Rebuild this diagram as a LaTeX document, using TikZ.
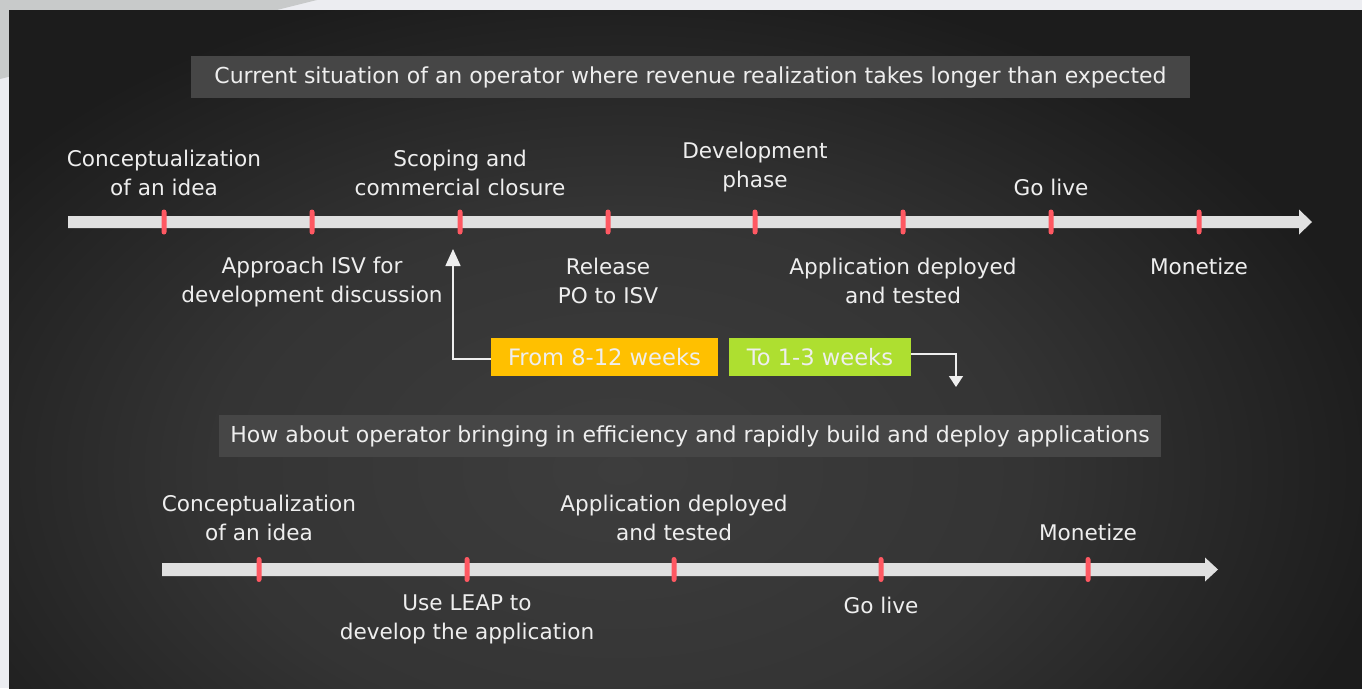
\documentclass[tikz,border=0pt]{standalone}
\usepackage{fontspec}
\setmainfont{DejaVu Sans}
\usetikzlibrary{arrows.meta}
\definecolor{lightbg}{HTML}{ECEDF1}
\definecolor{wedge}{HTML}{C8CACA}
\definecolor{bgin}{HTML}{3D3D3D}
\definecolor{bgmid}{HTML}{343434}
\definecolor{bgout}{HTML}{1C1C1C}
\definecolor{barc}{HTML}{E0E0E0}
\definecolor{tickred}{HTML}{FF5862}
\definecolor{boxgrey}{HTML}{464646}
\definecolor{txt}{HTML}{EEEEEE}
\definecolor{orangebox}{HTML}{FFC000}
\definecolor{greenbox}{HTML}{AEDF30}
\pgfdeclareradialshading{bgshade}{\pgfpoint{0bp}{0bp}}{color(0bp)=(bgin); color(13bp)=(bgmid); color(25bp)=(bgout); color(50bp)=(bgout)}
\tikzset{
  lbl/.style={text=txt, align=center, inner sep=0pt, font=\fontsize{21.6}{29}\selectfont},
  titlebox/.style={fill=boxgrey, text=txt, minimum height=42pt, inner sep=0pt, font=\fontsize{22}{29}\selectfont},
  tickmark/.style={fill=tickred, minimum width=5pt, minimum height=25pt, inner sep=0pt, rounded corners=2.5pt},
  weekbox/.style={text=txt, minimum height=38pt, inner sep=0pt, font=\fontsize{22.6}{29}\selectfont},
  conn/.style={draw=txt, line width=1.5pt}
}
\begin{document}
\begin{tikzpicture}[x=1pt,y=-1pt]
\useasboundingbox (0,0) rectangle (1362,688);
% background
\fill[lightbg] (0,0) rectangle (1362,688);
\fill[wedge] (0,0) -- (317,0) -- (0,79) -- cycle;
\begin{scope}
  \clip (9,10) rectangle (1362,688);
  \shade[shading=bgshade] (-160,-30) rectangle (1400,970);
\end{scope}
% titles
\node[titlebox, minimum width=999pt] (t1) at (690.5,77) {Current situation of an operator where revenue realization takes longer than expected};
\node[titlebox, minimum width=942pt] (t2) at (690,436) {How about operator bringing in efficiency and rapidly build and deploy applications};
% timeline 1
\fill[barc] (68,216) -- (1299,216) -- (1299,209.5) -- (1312,222) -- (1299,234.5) -- (1299,228) -- (68,228) -- cycle;
\foreach \x [count=\i] in {164,312,460,608,755,903,1051,1199}
  \node[tickmark] (a\i) at (\x,222) {};
\node[lbl] (la1) at (164,172.5) {Conceptualization\\of an idea};
\node[lbl] (la3) at (460,172.5) {Scoping and\\commercial closure};
\node[lbl] (la5) at (755,167.5) {Development\\phase};
\node[lbl] (la7) at (1051,187) {Go live};
\node[lbl] (lb2) at (312,282.5) {Approach ISV for\\development discussion};
\node[lbl] (lb4) at (608,280.5) {Release\\PO to ISV};
\node[lbl] (lb6) at (903,280.5) {Application deployed\\and tested};
\node[lbl] (lb8) at (1199,266) {Monetize};
% week boxes
\node[weekbox, fill=orangebox, minimum width=227pt] (from) at (604.5,357) {From 8-12 weeks};
\node[weekbox, fill=greenbox, minimum width=182pt] (to) at (820,357) {To 1-3 weeks};
\coordinate (upend) at (453,249);
\coordinate (downend) at (956,387);
\draw[conn, -{Triangle[length=17pt,width=15pt]}] ([yshift=-2pt]from.west) -| (upend);
\draw[conn, -{Triangle[length=11pt,width=14pt]}] ([yshift=3pt]to.east) -| (downend);
% timeline 2
\fill[barc] (162,563) -- (1205,563) -- (1205,557.5) -- (1218,569.5) -- (1205,581.5) -- (1205,576) -- (162,576) -- cycle;
\foreach \x [count=\i] in {259,467,674,881,1088}
  \node[tickmark] (b\i) at (\x,569.5) {};
\node[lbl] (lc1) at (259,517.5) {Conceptualization\\of an idea};
\node[lbl] (lc3) at (674,517.5) {Application deployed\\and tested};
\node[lbl] (lc5) at (1088,532) {Monetize};
\node[lbl] (ld2) at (467,619.5) {Use LEAP to\\develop the application};
\node[lbl] (ld4) at (881,605) {Go live};
\end{tikzpicture}
\end{document}
